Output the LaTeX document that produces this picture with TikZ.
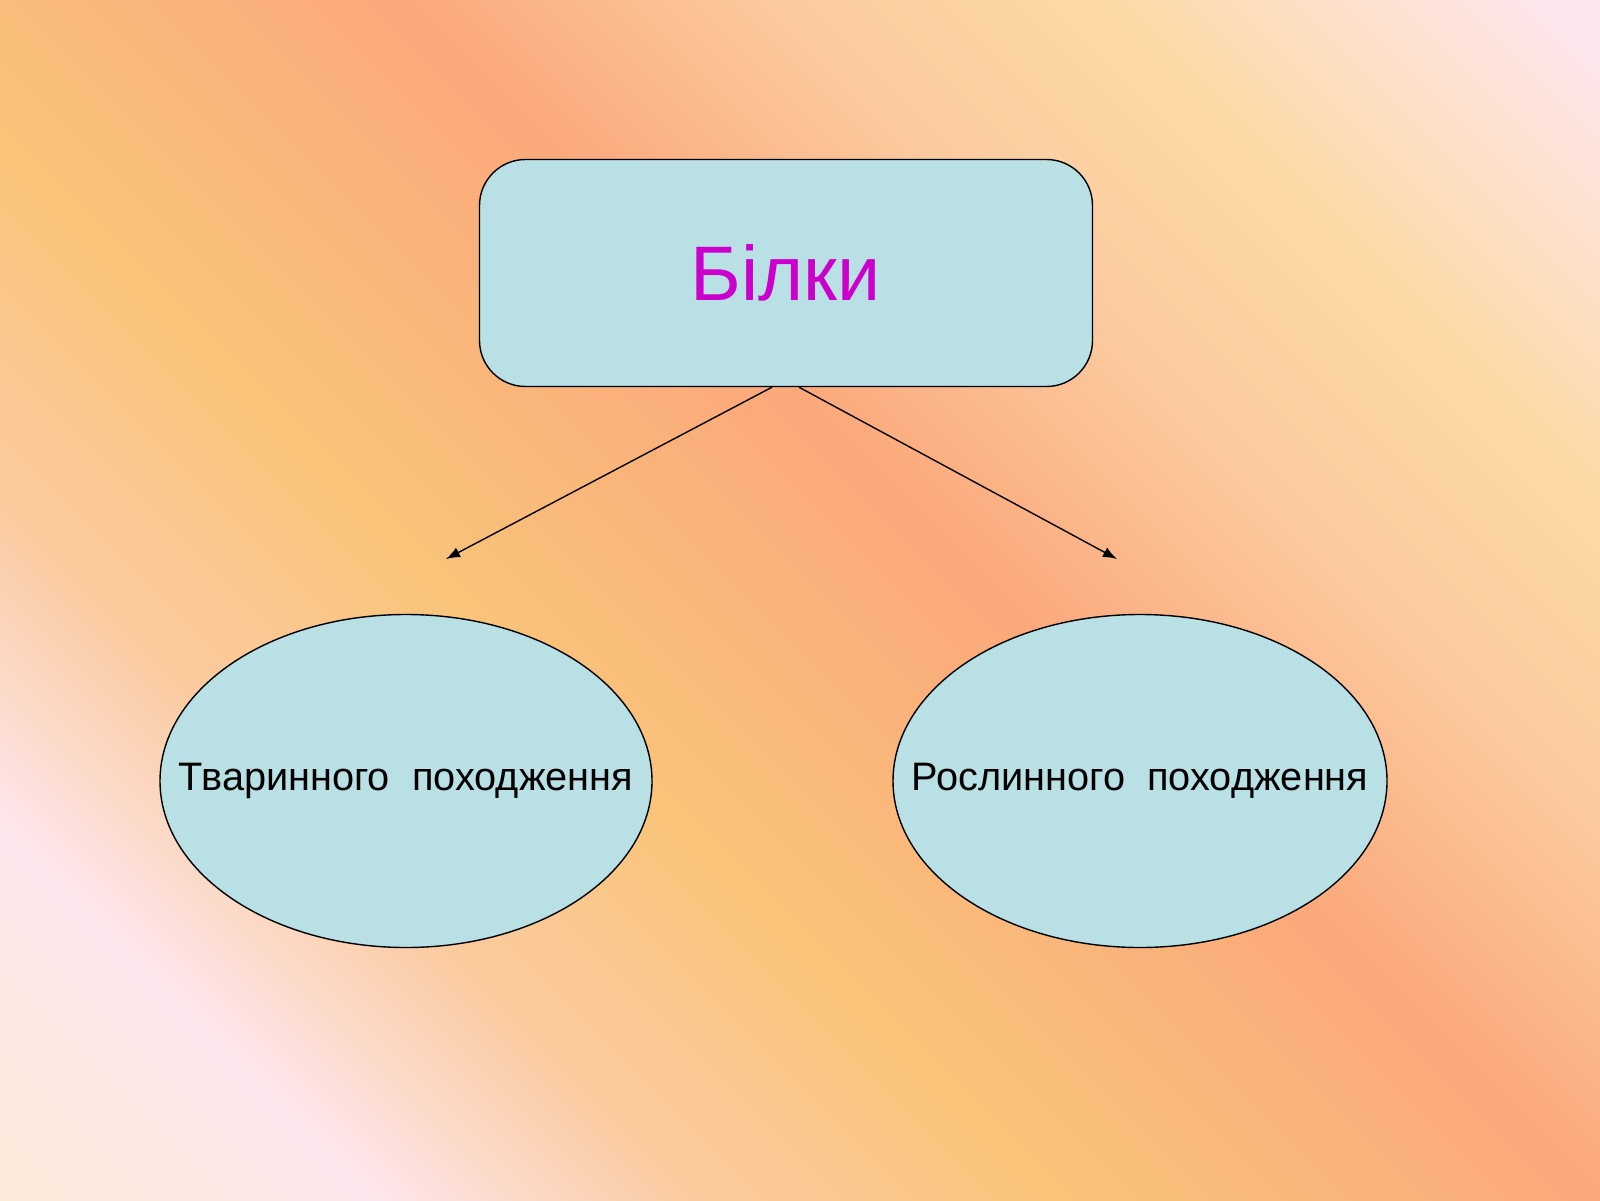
\documentclass[tikz,border=0pt]{standalone}
\usepackage{fontspec}
\setmainfont{Liberation Sans}
\usetikzlibrary{arrows}
\definecolor{bgcream}{HTML}{FCEBD4}
\definecolor{bgpink}{HTML}{FDE6EC}
\definecolor{bgpeach}{HTML}{FBCBA0}
\definecolor{bgyellow}{HTML}{F9C47A}
\definecolor{bgorange}{HTML}{FBA87A}
\definecolor{bglight}{HTML}{FDD9A5}
\definecolor{boxfill}{HTML}{B9E0E4}
\definecolor{titlecol}{HTML}{CC00CC}
\pgfdeclarehorizontalshading{slide}{100bp}{
  color(0bp)=(bgcream); color(12bp)=(bgcream); color(24bp)=(bgpink);
  color(32bp)=(bgpeach); color(41bp)=(bgyellow); color(55bp)=(bgorange);
  color(65bp)=(bgpeach); color(73bp)=(bglight); color(84bp)=(bgpink);
  color(100bp)=(bgpink)}

\begin{document}
\begin{tikzpicture}[>=latex,thin,
  top node/.style={rectangle,rounded corners=4.6mm,draw,fill=boxfill,
  minimum width=6.13cm,minimum height=2.27cm,font=\fontsize{22}{26}\selectfont,
  text=titlecol},
  kind node/.style={font=\fontsize{11.3}{13}\selectfont},
  kind shape/.style={draw,fill=boxfill}]

  \shade[shading=slide,shading angle=45] (0,0) rectangle (16,12);
  \useasboundingbox (0,0) rectangle (16,12);

  \node[top node] (proteins) at (7.86,9.27) {Білки};
  \draw[kind shape] (4.06,4.19) ellipse (2.46 and 1.665);
  \draw[kind shape] (11.40,4.19) ellipse (2.47 and 1.665);
  \node[kind node] (animal) at (4.06,4.19) {Тваринного\ \ походження};
  \node[kind node] (plant) at (11.40,4.19) {Рослинного\ \ походження};

  \coordinate (to animal) at (4.46,6.41);
  \coordinate (to plant) at (11.17,6.41);

  \draw[->] ([xshift=-1.4mm]proteins.south) -- (to animal);
  \draw[->] ([xshift=1.3mm]proteins.south) -- (to plant);

\end{tikzpicture}
\end{document}
